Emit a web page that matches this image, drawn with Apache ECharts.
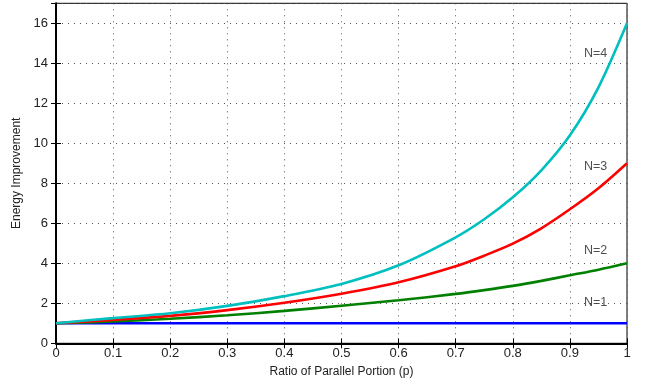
<!DOCTYPE html>
<html>
<head>
<meta charset="utf-8">
<script src="https://cdn.jsdelivr.net/npm/echarts@6/dist/echarts.min.js"></script>
<style>
  html, body { margin: 0; padding: 0; background: #fff; }
  #chart { width: 649px; height: 383px; }
</style>
</head>
<body>
<div id="chart"></div>
<script>
// ratio of parallel portion
const p = [0, 0.1, 0.2, 0.3, 0.4, 0.5, 0.6, 0.7, 0.75, 0.8, 0.85, 0.9, 0.95, 1];

const n1 = [1, 1, 1, 1, 1, 1, 1, 1, 1, 1, 1, 1, 1, 1];
const n2 = [1, 1.09, 1.23, 1.4, 1.62, 1.88, 2.15, 2.47, 2.66, 2.87, 3.12, 3.4, 3.68, 4.0];
const n3 = [1, 1.17, 1.37, 1.66, 2.03, 2.48, 3.05, 3.85, 4.38, 4.98, 5.75, 6.7, 7.75, 9.0];
const n4 = [1, 1.26, 1.5, 1.87, 2.36, 2.97, 3.9, 5.3, 6.2, 7.3, 8.65, 10.4, 12.8, 16.0];

const names = ["N=1", "N=2", "N=3", "N=4"];
const colors = ["#0000ff", "#008000", "#ff0000", "#00bfbf"];
const curves = [n1, n2, n3, n4];
// where the N=.. text sits
const labelPos = [[0.945, 2.05], [0.945, 4.65], [0.945, 8.85], [0.945, 14.5]];

const chart = echarts.init(document.getElementById("chart"));

const font = "Liberation Sans, Arial, sans-serif";

const lineSeries = curves.map((vals, i) => ({
  type: "line",
  name: names[i],
  data: p.map((x, j) => [x, vals[j]]),
  smooth: 0.3,
  showSymbol: false,
  lineStyle: { color: colors[i], width: 2.6 },
  z: 3 + i
}));

const textSeries = {
  type: "scatter",
  data: labelPos.map((c, i) => ({ value: c, name: names[i] })),
  symbolSize: 0,
  silent: true,
  label: {
    show: true,
    position: "inside",
    formatter: (d) => d.name,
    color: "#222",
    fontFamily: font,
    fontSize: 12.5
  },
  z: 10
};

const option = {
  animation: false,
  grid: {
    left: 56,
    right: 22,
    top: 3.3,
    bottom: 39.7,
    outerBoundsMode: "none",
    containLabel: false,
    show: true,
    borderColor: "#000",
    borderWidth: 1
  },
  xAxis: [
    {
      type: "value",
      min: 0,
      max: 1,
      interval: 0.1,
      name: "Ratio of Parallel Portion (p)",
      nameLocation: "middle",
      nameGap: 22,
      nameTextStyle: { color: "#222", fontFamily: font, fontSize: 12 },
      axisLine: { show: true, onZero: false, lineStyle: { color: "#000", width: 2 } },
      axisTick: { inside: true, length: 5, lineStyle: { color: "#000" } },
      axisLabel: {
        color: "#222",
        fontFamily: font,
        fontSize: 13,
        margin: 4,
        formatter: (v) => String(Math.round(v * 10) / 10)
      },
      splitLine: { show: true, lineStyle: { color: "#555", type: [1, 5], width: 1 } }
    },
    {
      type: "value",
      position: "top",
      min: 0,
      max: 1,
      interval: 0.1,
      axisLine: { show: true, lineStyle: { color: "#000", width: 1 } },
      axisTick: { inside: true, length: 5, lineStyle: { color: "#000" } },
      axisLabel: { show: false },
      splitLine: { show: false }
    }
  ],
  yAxis: [
    {
      type: "value",
      min: 0,
      max: 17,
      interval: 2,
      name: "Energy Improvement",
      nameLocation: "middle",
      nameGap: 28,
      nameTextStyle: { color: "#222", fontFamily: font, fontSize: 12 },
      axisLine: { show: true, onZero: false, lineStyle: { color: "#000", width: 2 } },
      axisTick: { inside: true, length: 5, lineStyle: { color: "#000" } },
      axisLabel: {
        color: "#222",
        fontFamily: font,
        fontSize: 13,
        margin: 8,
        showMaxLabel: false,
        formatter: (v) => (v % 2 === 0 ? String(v) : "")
      },
      splitLine: { show: true, lineStyle: { color: "#555", type: [1, 5], width: 1 } }
    },
    {
      type: "value",
      position: "right",
      min: 0,
      max: 17,
      interval: 2,
      axisLine: { show: true, lineStyle: { color: "#000", width: 1 } },
      axisTick: { inside: true, length: 5, lineStyle: { color: "#000" } },
      axisLabel: { show: false },
      splitLine: { show: false }
    }
  ],
  series: [...lineSeries, textSeries]
};

chart.setOption(option);
</script>
</body>
</html>
